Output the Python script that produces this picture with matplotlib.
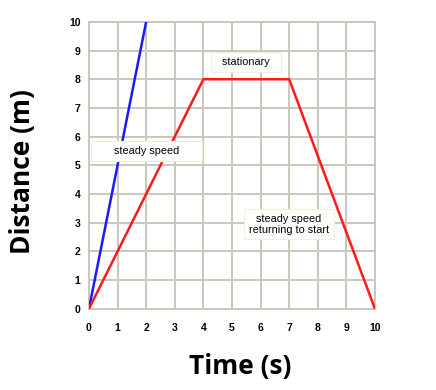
import matplotlib
matplotlib.use("Agg")
import matplotlib.pyplot as plt

blue_t = [0, 2]
blue_d = [0, 10]
red_t = [0, 4, 7, 10]
red_d = [0, 8, 8, 0]
ticks = list(range(0, 11))

fig = plt.figure(figsize=(4.36, 3.9), dpi=100)
ax = fig.add_axes([0.204, 0.208, 0.656, 0.736])
ax.plot(blue_t, blue_d, color="#1a1aff", lw=1.8, zorder=3, solid_capstyle="butt")
ax.plot(red_t, red_d, color="#ff1a1a", lw=1.8, zorder=3, solid_capstyle="butt")
ax.set_xlim(0, 10)
ax.set_ylim(0, 10)
ax.set_xticks(ticks)
ax.set_yticks(ticks)
ax.grid(True, color="#c9c9bb", lw=1.4, zorder=0)
for s in ax.spines.values():
    s.set_color("#c9c9bb")
    s.set_linewidth(1.4)
ax.tick_params(length=0, labelsize=7.5)
ax.tick_params(axis="x", pad=10)
ax.tick_params(axis="y", pad=6)
for lab in ax.get_xticklabels() + ax.get_yticklabels():
    lab.set_fontweight("bold")
    lab.set_family("Liberation Sans")
ax.set_axisbelow(True)

box = dict(boxstyle="square,pad=0.45", fc="white", ec="#f3f0d8", lw=0.8)
tk = dict(fontsize=7.8, family="Liberation Sans", ha="center", va="center", bbox=box, zorder=4)
ax.text(5.49, 8.59, "  stationary  ", **tk)
ax.text(2.01, 5.5, "      steady speed      ", **tk)
ax.text(6.98, 2.95, "steady speed\nreturning to start", linespacing=1.1, **tk)

fig.text(0.552, 0.059, "Time (s)", fontsize=19, fontweight="bold", family="Open Sans", ha="center", va="center")
fig.text(0.052, 0.559, "Distance (m)", fontsize=19, fontweight="bold", family="Open Sans", ha="center", va="center", rotation=90)

fig.savefig("out.png", dpi=100)
